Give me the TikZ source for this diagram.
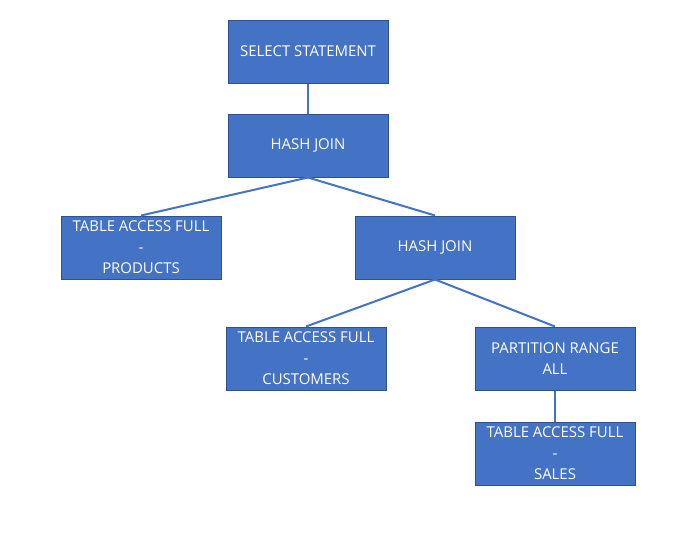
\documentclass[tikz,border=0pt]{standalone}
\usepackage{fontspec}
\setmainfont{Open Sans}
\definecolor{boxfill}{HTML}{4472C4}
\definecolor{boxline}{HTML}{2F528F}
\definecolor{conn}{HTML}{4472C4}
\begin{document}
\begin{tikzpicture}[x=0.75pt,y=-0.75pt,
  opbox/.style={draw=boxline,line width=0.75pt,fill=boxfill,text=white,
    minimum width=120pt,minimum height=47.25pt,inner sep=0pt,align=center,
    font=\fontsize{11.2pt}{15.75pt}\selectfont},
  link/.style={draw=conn,line width=1.5pt}]
\useasboundingbox (0,0) rectangle (697,533);
\node[opbox] (sel) at (308,51.5) {SELECT STATEMENT};
\node[opbox] (hj1) at (308,145.5) {HASH JOIN};
\node[opbox] (prod) at (141,247.5) {TABLE ACCESS FULL\\-\\PRODUCTS};
\node[opbox] (hj2) at (435,247.5) {HASH JOIN};
\node[opbox] (cust) at (306,358.5) {TABLE ACCESS FULL\\-\\CUSTOMERS};
\node[opbox] (part) at (555,358.5) {PARTITION RANGE\\ALL};
\node[opbox] (sales) at (555,453.5) {TABLE ACCESS FULL\\-\\SALES};
\draw[link] (sel.south) -- (hj1.north);
\draw[link] (hj1.south) -- (prod.north);
\draw[link] (hj1.south) -- (hj2.north);
\draw[link] (hj2.south) -- (cust.north);
\draw[link] (hj2.south) -- (part.north);
\draw[link] (part.south) -- (sales.north);
\end{tikzpicture}
\end{document}
